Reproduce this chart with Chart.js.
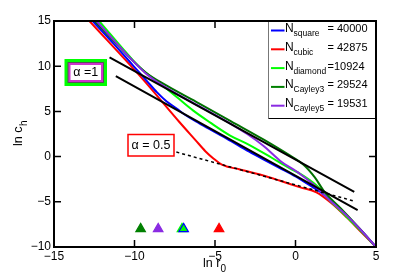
<!DOCTYPE html>
<html>
<head>
<meta charset="utf-8">
<script src="https://cdn.jsdelivr.net/npm/chart.js@4.4.0/dist/chart.umd.min.js"></script>
<style>
  html, body { margin: 0; padding: 0; background: #fff; }
</style>
</head>
<body>
<canvas id="chart" width="415" height="277"></canvas>
<script>
// values (ln r0, ln ch)
const squareX = [-12.6, -11.3, -10.1, -9.2, -8.6, -8.0, -7.36, -7.0, -6.0, -5.0, -4.0, -3.0, -2.0, -1.0, 0, 0.5, 1.0, 1.5, 2.0, 3.0, 4.0, 5];
const squareY = [15, 12.5, 10.1, 8.3, 7.1, 6.1, 5.3, 4.8, 3.7, 2.7, 1.7, 0.65, -0.3, -1.25, -2.2, -2.75, -3.3, -3.85, -4.55, -6.2, -8.0, -10];

const cubicX = [-12.8, -9.5, -7.2, -6.2, -5.6, -5.1, -4.5, -3.5, -2.0, -1.0, 0.3, 1.3, 2.2, 3.2, 4.0, 5];
const cubicY = [15, 8.6, 3.8, 1.8, 0.6, -0.2, -0.95, -1.4, -2.1, -2.65, -3.4, -3.95, -5.1, -6.75, -8.2, -10];

const diamondX = [-12.2, -10.1, -9.48, -8.42, -7.36, -6.37, -5.31, -4.06, -3.03, -1.5, -0.33, 0.3, 1.33, 2.16, 3.2, 4.1, 5];
const diamondY = [15, 10.67, 9.56, 8.11, 6.56, 5.11, 3.78, 2.33, 1.44, -0.1, -1.33, -1.9, -3.22, -4.89, -6.7, -8.3, -10];

const cayley3X = [-12.47, -9.3, -8, -6, -4, -2, -0.33, 0.5, 1.2, 1.8, 2.8, 3.9, 5];
const cayley3Y = [15, 9.3, 7.85, 5.9, 3.9, 1.9, 0.1, -0.9, -2.3, -3.9, -5.7, -7.8, -10];

const cayley5X = [-12.36, -9.3, -8, -6, -4, -3, -2, -0.96, 0.28, 1.33, 2.16, 3.2, 4.1, 5];
const cayley5Y = [15, 9.2, 7.6, 5.6, 3.6, 2.5, 1.2, -0.45, -1.92, -3.41, -4.89, -6.56, -8.2, -10];

// guide lines
const slope1UpperX = [-11.55, 3.65];
const slope1UpperY = [10.97, -3.9];
const slope1LowerX = [-11.16, 3.86];
const slope1LowerY = [8.89, -5.92];
const slopeHalfX = [-7.4, 3.6];
const slopeHalfY = [0.5, -4.9];

// triangle markers
const markerX = [-9.62, -8.53, -7.05, -6.95, -4.75];
const markerY = [-8, -8, -8, -8, -8];
const markerFill = ["#008000", "#8a2be2", "#00ff00", "#00ff00", "#ff0000"];
const markerEdge = ["#008000", "#8a2be2", "#00ff00", "#0000ff", "#ff0000"];

const legendNames = ["square", "cubic", "diamond", "Cayley3", "Cayley5"];
const legendValues = ["= 40000", "= 42875", "=10924", "= 29524", "= 19531"];
const legendColors = ["#0000ff", "#ff0000", "#00ff00", "#008000", "#8a2be2"];

const xTicks = [-15, -10, -5, 0, 5];
const yTicks = [-10, -5, 0, 5, 10, 15];

const FONT = "'Liberation Sans', Arial, sans-serif";

function pts(xs, ys) {
  return xs.map((x, i) => ({ x: x, y: ys[i] }));
}

function curve(xs, ys, color) {
  return {
    data: pts(xs, ys),
    showLine: true,
    borderColor: color,
    borderWidth: 2,
    pointRadius: 0,
    cubicInterpolationMode: "monotone",
    fill: false
  };
}

function fmt(v) {
  return v < 0 ? "\u2212" + Math.abs(v) : String(v);
}

// frame, inward ticks, legend, labels and boxes
const decorations = {
  id: "decorations",
  afterDatasetsDraw(chart) {
    const ctx = chart.ctx;
    const a = chart.chartArea;
    const xs = chart.scales.x, ys = chart.scales.y;
    ctx.save();

    // inward ticks
    ctx.strokeStyle = "#000";
    ctx.lineWidth = 1.5;
    ctx.beginPath();
    xTicks.slice(1, -1).forEach(t => {
      const px = xs.getPixelForValue(t);
      ctx.moveTo(px, a.bottom); ctx.lineTo(px, a.bottom - 7);
      ctx.moveTo(px, a.top); ctx.lineTo(px, a.top + 7);
    });
    yTicks.slice(1, -1).forEach(t => {
      const py = ys.getPixelForValue(t);
      ctx.moveTo(a.left, py); ctx.lineTo(a.left + 7, py);
      ctx.moveTo(a.right, py); ctx.lineTo(a.right - 7, py);
    });
    ctx.stroke();

    // legend box
    const lx = 268.5, ly = a.top, lw = a.right - 268.5, lh = 97.5;
    ctx.fillStyle = "#fff";
    ctx.fillRect(lx, ly, lw, lh);
    ctx.lineWidth = 1;
    ctx.strokeStyle = "#777";
    ctx.beginPath();
    ctx.moveTo(lx, ly); ctx.lineTo(lx, ly + lh);
    ctx.stroke();
    ctx.strokeStyle = "#000";
    ctx.beginPath();
    ctx.moveTo(lx, ly + lh); ctx.lineTo(a.right, ly + lh);
    ctx.stroke();

    legendNames.forEach((name, i) => {
      const by = 32 + i * 18.8;
      ctx.strokeStyle = legendColors[i];
      ctx.lineWidth = 2;
      ctx.beginPath();
      ctx.moveTo(271, by - 1.5); ctx.lineTo(284.5, by - 1.5);
      ctx.stroke();
      ctx.fillStyle = "#000";
      ctx.textAlign = "left";
      ctx.textBaseline = "alphabetic";
      ctx.font = "12px " + FONT;
      ctx.fillText("N", 285, by);
      ctx.font = "8.5px " + FONT;
      ctx.fillText(name, 293.5, by + 4);
      ctx.font = "11px " + FONT;
      ctx.fillText(legendValues[i], 327.5, by);
    });

    // frame
    ctx.strokeStyle = "#000";
    ctx.lineWidth = 2;
    ctx.strokeRect(a.left, a.top, a.right - a.left, a.bottom - a.top);

    // alpha = 1 box
    ctx.fillStyle = "#00ff00";
    ctx.fillRect(64.5, 59, 42.5, 27);
    ctx.fillStyle = "#555";
    ctx.fillRect(67.5, 62, 36.5, 21);
    ctx.fillStyle = "#cc33cc";
    ctx.fillRect(68.5, 63, 34.5, 19);
    ctx.fillStyle = "#fff";
    ctx.fillRect(70.5, 65, 30.5, 15);
    ctx.fillStyle = "#000";
    ctx.font = "12.5px " + FONT;
    ctx.textAlign = "center";
    ctx.textBaseline = "middle";
    ctx.fillText("\u03b1 =1", 85.8, 72.5);

    // alpha = 0.5 box
    ctx.fillStyle = "#fff";
    ctx.fillRect(128, 134.5, 46, 21.5);
    ctx.strokeStyle = "#ff0000";
    ctx.lineWidth = 1.5;
    ctx.strokeRect(128, 134.5, 46, 21.5);
    ctx.fillStyle = "#000";
    ctx.fillText("\u03b1 = 0.5", 151, 145.5);

    // axis titles
    ctx.textAlign = "left";
    ctx.textBaseline = "alphabetic";
    ctx.font = "12.5px " + FONT;
    ctx.fillText("ln r", 203, 267);
    ctx.font = "10px " + FONT;
    ctx.fillText("0", 220.5, 272);

    ctx.translate(22, 146);
    ctx.rotate(-Math.PI / 2);
    ctx.font = "12.5px " + FONT;
    ctx.fillText("ln c", 0, 0);
    const w = ctx.measureText("ln c").width;
    ctx.font = "10px " + FONT;
    ctx.fillText("h", w + 0.5, 4.5);

    ctx.restore();
  }
};

new Chart(document.getElementById("chart"), {
  type: "scatter",
  data: {
    datasets: [
      {
        data: pts(markerX, markerY),
        showLine: false,
        pointStyle: "triangle",
        pointRadius: 5.5,
        pointBorderWidth: 1.2,
        pointBackgroundColor: markerFill,
        pointBorderColor: markerEdge
      },
      {
        data: pts(slopeHalfX, slopeHalfY),
        showLine: true,
        borderColor: "#000",
        borderWidth: 1.5,
        borderDash: [3, 3],
        pointRadius: 0
      },
      curve(slope1UpperX, slope1UpperY, "#000"),
      curve(slope1LowerX, slope1LowerY, "#000"),
      curve(cayley5X, cayley5Y, "#8a2be2"),
      curve(cayley3X, cayley3Y, "#007000"),
      curve(diamondX, diamondY, "#00ff00"),
      curve(squareX, squareY, "#0000ff"),
      curve(cubicX, cubicY, "#ff0000")
    ]
  },
  options: {
    responsive: false,
    animation: false,
    layout: { padding: { left: 0, top: 21, right: 39, bottom: 0 } },
    plugins: {
      legend: { display: false },
      tooltip: { enabled: false }
    },
    scales: {
      x: {
        type: "linear",
        min: -15,
        max: 5,
        afterFit: s => { s.height = 30; },
        afterBuildTicks: s => { s.ticks = xTicks.map(v => ({ value: v })); },
        grid: { display: false, drawTicks: false },
        border: { display: false },
        ticks: {
          padding: 2,
          color: "#000",
          font: { family: FONT, size: 12 },
          maxRotation: 0,
          autoSkip: false,
          callback: fmt
        }
      },
      y: {
        type: "linear",
        min: -10,
        max: 15,
        afterFit: s => { s.width = 54; },
        afterBuildTicks: s => { s.ticks = yTicks.map(v => ({ value: v })); },
        grid: { display: false, drawTicks: false },
        border: { display: false },
        ticks: {
          padding: 3,
          color: "#000",
          font: { family: FONT, size: 12 },
          autoSkip: false,
          callback: fmt
        }
      }
    }
  },
  plugins: [decorations]
});
</script>
</body>
</html>
